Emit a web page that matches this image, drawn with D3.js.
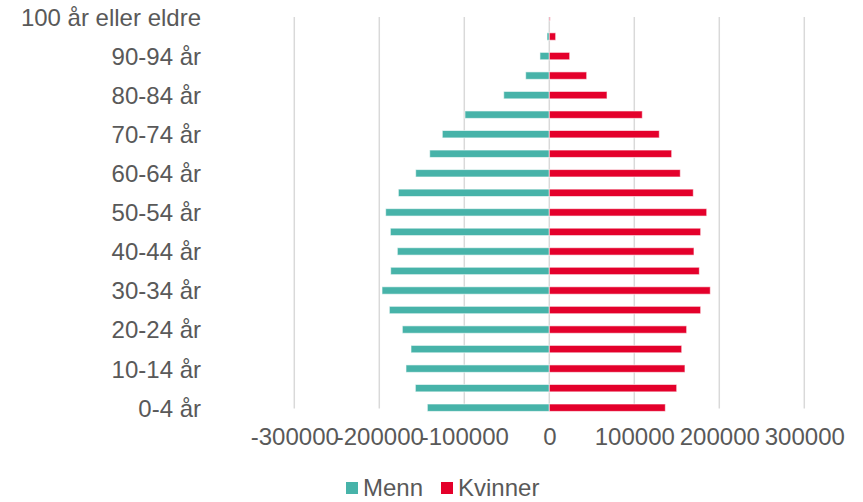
<!DOCTYPE html>
<html>
<head>
<meta charset="utf-8">
<script src="https://cdn.jsdelivr.net/npm/d3@7"></script>
<style>
  html, body { margin: 0; padding: 0; background: #fff; }
  svg { display: block; }
  text { font-family: "Liberation Sans", Arial, sans-serif; fill: #595959; }
</style>
</head>
<body>
<svg id="chart" width="863" height="502"></svg>
<script>
// ---- Data ----
const categories = ["0-4 år","5-9 år","10-14 år","15-19 år","20-24 år","25-29 år","30-34 år","35-39 år","40-44 år","45-49 år","50-54 år","55-59 år","60-64 år","65-69 år","70-74 år","75-79 år","80-84 år","85-89 år","90-94 år","95-99 år","100 år eller eldre"];
const menn = [143500,157600,168600,162700,172900,188200,196800,186600,178800,187000,192500,177600,157200,140700,125900,99200,53600,27800,11000,2700,500];
const kvinner = [136500,149900,159600,155800,161600,178100,189400,176500,170200,178100,185200,169400,154100,144000,129400,109400,67900,44000,24000,7500,1000];
const xTicks = [-300000,-200000,-100000,0,100000,200000,300000];
const yTickLabels = categories.filter((d, i) => i % 2 === 0);
const seriesNames = ["Menn","Kvinner"];
const colors = ["#47B3A9","#E4002B"];

// ---- Layout ----
const svg = d3.select("#chart");
const plotTop = 17, plotBottom = 407.7;
const x = d3.scaleLinear().domain([-300000, 300000]).range([294.3, 804.3]);
const y = d3.scalePoint().domain(categories).range([plotBottom, plotTop]);
const barH = 7.4;
const fs = 24;

// clip (top half of first bar hidden like plot area)
svg.append("defs").append("clipPath").attr("id","clip")
  .append("rect").attr("x",0).attr("y",plotTop).attr("width",863).attr("height",502-plotTop);

// gridlines
svg.append("g").selectAll("line").data(xTicks).join("line")
  .attr("x1", d => x(d)).attr("x2", d => x(d))
  .attr("y1", plotTop).attr("y2", 408.5)
  .attr("stroke", "#D9D9D9").attr("stroke-width", 1.5);

const bars = svg.append("g").attr("clip-path","url(#clip)");
const rows = categories.map((c, i) => ({c, m: menn[i], k: kvinner[i]}));

bars.selectAll("rect.m").data(rows).join("rect").attr("class","m")
  .attr("x", d => x(-d.m)).attr("width", d => x(0) - x(-d.m))
  .attr("y", d => y(d.c) - barH/2).attr("height", barH)
  .attr("fill", colors[0]).attr("stroke","#fff").attr("stroke-width",1).attr("stroke-opacity",0.6);

bars.selectAll("rect.k").data(rows).join("rect").attr("class","k")
  .attr("x", x(0)).attr("width", d => x(d.k) - x(0))
  .attr("y", d => y(d.c) - barH/2).attr("height", barH)
  .attr("fill", colors[1]).attr("stroke","#fff").attr("stroke-width",1).attr("stroke-opacity",0.6);

// x axis
const xAxis = svg.append("g").attr("transform", `translate(0,${437})`)
  .call(d3.axisBottom(x).tickValues(xTicks).tickSize(0).tickPadding(0).tickFormat(d => String(d)));
xAxis.select(".domain").remove();
xAxis.selectAll("text").attr("font-size", fs).attr("dy","0.35em").attr("y",0)
  .style("font-family","'Liberation Sans', Arial, sans-serif").style("fill","#595959");

// y axis
const yAxis = svg.append("g").attr("transform", `translate(201,0)`)
  .call(d3.axisLeft(y).tickValues(yTickLabels).tickSize(0).tickPadding(0));
yAxis.select(".domain").remove();
yAxis.selectAll("text").attr("font-size", fs).attr("dy","0.35em")
  .style("font-family","'Liberation Sans', Arial, sans-serif").style("fill","#595959");

// legend
const legendX = [346, 441];
const legend = svg.append("g");
seriesNames.forEach((name, i) => {
  legend.append("rect").attr("x", legendX[i]).attr("y", 482).attr("width", 12).attr("height", 12).attr("fill", colors[i]);
  legend.append("text").attr("x", legendX[i] + 17).attr("y", 488).attr("dy","0.35em")
    .attr("font-size", fs).text(name);
});
</script>
</body>
</html>
